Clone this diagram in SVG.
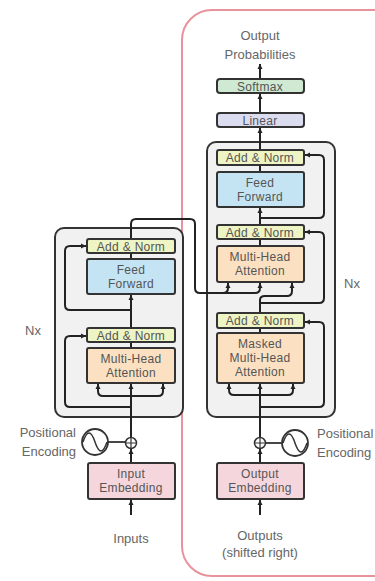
<svg xmlns="http://www.w3.org/2000/svg" width="375" height="581" viewBox="0 0 375 581">
<defs>
<marker id="ah" markerWidth="6" markerHeight="6" refX="5" refY="3" orient="auto" markerUnits="userSpaceOnUse">
<path d="M0,0.5 L5,3 L0,5.5 Z" fill="#222"/>
</marker>
<style>
text{font-family:"Liberation Sans",Arial,sans-serif;fill:#555;text-anchor:middle}
.bt{font-size:12px;fill:#555;letter-spacing:0.3px}
.lb{font-size:13px;fill:#666}
.stack{fill:#f1f1f1;stroke:#333;stroke-width:2}
.blk{stroke:#333;stroke-width:2}
.an{fill:#eef4c4}
.ff{fill:#c4e4f4}
.mha{fill:#fbe1c2}
.emb{fill:#f5d6dc}
.lin{fill:#dcdcf0}
.sm{fill:#cfe9d3}
.c{fill:none;stroke:#222;stroke-width:2}
.ca{fill:none;stroke:#222;stroke-width:2;marker-end:url(#ah)}
</style>
</defs>
<rect x="182" y="10" width="230" height="566" rx="30" fill="none" stroke="#e8929c" stroke-width="2"/>
<g id="encoder-stack"><rect class="stack" x="55" y="228" width="128" height="189" rx="9"/></g>
<g id="decoder-stack"><rect class="stack" x="207" y="142" width="128" height="275" rx="9"/></g>
<g id="connectors">
<path class="ca" d="M131,515 V500"/>
<path class="ca" d="M131,462 V449"/>
<path class="c" d="M131,437 V396"/>
<path class="ca" d="M131,396 V384"/>
<path class="ca" d="M131,396 H103 Q98,396 98,391 V384"/>
<path class="ca" d="M131,396 H158 Q163,396 163,391 V384"/>
<path class="ca" d="M131,407 H70 Q65,407 65,402 V341 Q65,336 70,336 H86"/>
<path class="c" d="M131,348 V343"/>
<path class="ca" d="M131,327 V295"/>
<path class="ca" d="M131,310 H70 Q65,310 65,305 V251 Q65,246 70,246 H86"/>
<path class="c" d="M131,259 V253"/>
<path class="ca" d="M131,239 V224 Q131,219 136,219 H190 Q195,219 195,224 V288 Q195,293 200,293 H255 Q260,293 260,288 V283"/>
<path class="ca" d="M223,293 Q228,293 228,288 V283"/>
<path class="ca" d="M260,515 V500"/>
<path class="ca" d="M260,462 V449"/>
<path class="c" d="M260,437 V395"/>
<path class="ca" d="M260,395 V384"/>
<path class="ca" d="M260,395 H234 Q229,395 229,390 V384"/>
<path class="ca" d="M260,395 H288 Q293,395 293,390 V384"/>
<path class="ca" d="M260,407 H319 Q324,407 324,402 V327 Q324,322 319,322 H305"/>
<path class="c" d="M260,333 V328"/>
<path class="c" d="M260,313 V300 Q260,296 265,296 H287 Q292,296 292,291"/>
<path class="ca" d="M292,291 V283"/>
<path class="ca" d="M260,303 H319 Q324,303 324,298 V237 Q324,232 319,232 H305"/>
<path class="c" d="M260,246 V239"/>
<path class="ca" d="M260,225 V208"/>
<path class="ca" d="M260,218 H319 Q324,218 324,213 V160 Q324,155 319,155 H305"/>
<path class="c" d="M260,172 V165"/>
<path class="ca" d="M260,150 V128"/>
<path class="ca" d="M260,113 V94"/>
<path class="ca" d="M260,79 V64"/>
</g>
<g id="enc-add-norm-2"><rect class="blk an" x="87" y="239" width="88" height="14" rx="2"/><text class="bt" x="131" y="250.5">Add &amp; Norm</text></g>
<g id="enc-feed-forward"><rect class="blk ff" x="87" y="259" width="88" height="35" rx="2"/><text class="bt" x="131" y="274">Feed</text><text class="bt" x="131" y="288">Forward</text></g>
<g id="enc-add-norm-1"><rect class="blk an" x="87" y="328" width="88" height="14" rx="2"/><text class="bt" x="131" y="339.5">Add &amp; Norm</text></g>
<g id="enc-mha"><rect class="blk mha" x="87" y="348" width="88" height="35" rx="2"/><text class="bt" x="131" y="363">Multi-Head</text><text class="bt" x="131" y="377">Attention</text></g>
<g id="nx-left"><text class="lb" x="33" y="335">Nx</text></g>
<g id="pe-left"><circle cx="95" cy="442" r="13" fill="none" stroke="#333" stroke-width="1.8"/><path d="M83,442 C87,430 91,430 95,442 C99,454 103,454 107,442" fill="none" stroke="#333" stroke-width="1.5"/><path d="M108,442 H126" stroke="#333" stroke-width="1.8"/><text class="lb" x="76" y="437" style="text-anchor:end">Positional</text><text class="lb" x="76" y="456" style="text-anchor:end">Encoding</text></g>
<g id="plus-left"><circle cx="131" cy="443" r="5.5" fill="#fff" stroke="#333" stroke-width="1.5"/><path d="M125.5,443 H136.5 M131,437.5 V448.5" stroke="#333" stroke-width="1.2"/></g>
<g id="input-embedding"><rect class="blk emb" x="88" y="463" width="87" height="36" rx="2"/><text class="bt" x="131" y="478">Input</text><text class="bt" x="131" y="492">Embedding</text></g>
<g id="inputs"><text class="lb" x="131" y="543">Inputs</text></g>
<g id="dec-add-norm-3"><rect class="blk an" x="217" y="150" width="87" height="15" rx="2"/><text class="bt" x="260" y="162">Add &amp; Norm</text></g>
<g id="dec-feed-forward"><rect class="blk ff" x="217" y="172" width="87" height="35" rx="2"/><text class="bt" x="260" y="187">Feed</text><text class="bt" x="260" y="201">Forward</text></g>
<g id="dec-add-norm-2"><rect class="blk an" x="217" y="225" width="87" height="14" rx="2"/><text class="bt" x="260" y="236.5">Add &amp; Norm</text></g>
<g id="dec-mha"><rect class="blk mha" x="217" y="246" width="87" height="36" rx="2"/><text class="bt" x="260" y="261">Multi-Head</text><text class="bt" x="260" y="275">Attention</text></g>
<g id="dec-add-norm-1"><rect class="blk an" x="217" y="313" width="87" height="15" rx="2"/><text class="bt" x="260" y="325">Add &amp; Norm</text></g>
<g id="dec-masked-mha"><rect class="blk mha" x="217" y="333" width="87" height="50" rx="2"/><text class="bt" x="260" y="348">Masked</text><text class="bt" x="260" y="362">Multi-Head</text><text class="bt" x="260" y="376">Attention</text></g>
<g id="nx-right"><text class="lb" x="352" y="288">Nx</text></g>
<g id="linear"><rect class="blk lin" x="217" y="113" width="87" height="14" rx="3"/><text class="bt" x="260" y="124.5">Linear</text></g>
<g id="softmax"><rect class="blk sm" x="217" y="79" width="87" height="14" rx="3"/><text class="bt" x="260" y="90.5">Softmax</text></g>
<g id="output-probabilities"><text class="lb" x="260" y="40">Output</text><text class="lb" x="260" y="59">Probabilities</text></g>
<g id="plus-right"><circle cx="260" cy="443" r="5.5" fill="#fff" stroke="#333" stroke-width="1.5"/><path d="M254.5,443 H265.5 M260,437.5 V448.5" stroke="#333" stroke-width="1.2"/></g>
<g id="pe-right"><circle cx="295" cy="443" r="13" fill="none" stroke="#333" stroke-width="1.8"/><path d="M283,443 C287,431 291,431 295,443 C299,455 303,455 307,443" fill="none" stroke="#333" stroke-width="1.5"/><path d="M265,443 H282" stroke="#333" stroke-width="1.8"/><text class="lb" x="317" y="438" style="text-anchor:start">Positional</text><text class="lb" x="317" y="457" style="text-anchor:start">Encoding</text></g>
<g id="output-embedding"><rect class="blk emb" x="217" y="463" width="87" height="36" rx="2"/><text class="bt" x="260" y="478">Output</text><text class="bt" x="260" y="492">Embedding</text></g>
<g id="outputs"><text class="lb" x="260" y="540">Outputs</text><text class="lb" x="260" y="557">(shifted right)</text></g>
</svg>
